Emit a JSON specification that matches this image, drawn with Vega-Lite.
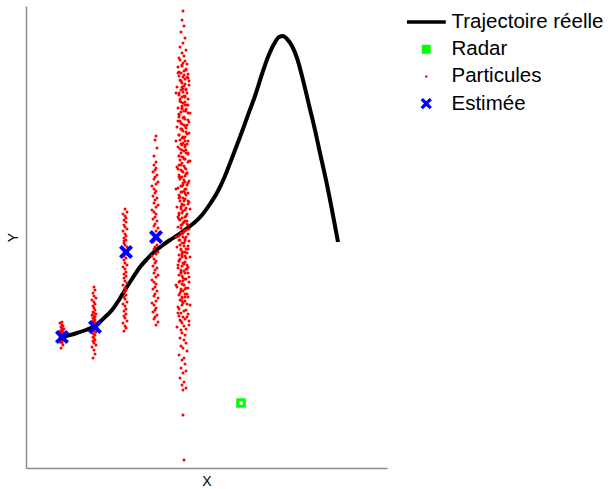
{
"$schema": "https://vega.github.io/schema/vega-lite/v6.json",
"width": 361, "height": 462,
"autosize": {"type": "none"},
"padding": {"left": 26, "top": 6, "right": 221, "bottom": 21},
"background": "white",
"config": {
 "view": {"stroke": null},
 "font": "Liberation Sans",
 "axis": {"ticks": false, "labels": false, "grid": false, "domainColor": "#8c8c8c", "domainWidth": 1.5, "titleFont": "Liberation Sans", "titleFontSize": 14, "titleFontWeight": "normal", "titleColor": "black", "titlePadding": 6}
},
"datasets": {
 "traj": [{"x":34,"y":131},{"x":44,"y":133},{"x":51,"y":135},{"x":60,"y":138},{"x":69,"y":142},{"x":77,"y":149},{"x":86,"y":158},{"x":93,"y":168},{"x":99,"y":178},{"x":106,"y":189},{"x":114,"y":201},{"x":122,"y":210},{"x":129,"y":217},{"x":137,"y":223},{"x":144,"y":228},{"x":152,"y":233},{"x":160,"y":239},{"x":168,"y":245},{"x":176,"y":253},{"x":184,"y":264},{"x":192,"y":277},{"x":199,"y":292},{"x":206,"y":310},{"x":214,"y":331},{"x":222,"y":353},{"x":229,"y":372},{"x":236,"y":394},{"x":242,"y":411},{"x":248,"y":424},{"x":253,"y":431},{"x":257,"y":432},{"x":261,"y":429},{"x":266,"y":422},{"x":271,"y":410},{"x":277,"y":388},{"x":283,"y":363},{"x":289,"y":338},{"x":294,"y":315},{"x":300,"y":288},{"x":306,"y":258},{"x":312,"y":226}],
 "radar": [{"x":215,"y":65}],
 "est": [{"x":36,"y":131},{"x":69,"y":141},{"x":100,"y":216},{"x":130,"y":231}],
 "part": [
 {"x":35,"y":120},{"x":37,"y":123},{"x":36,"y":125},{"x":34,"y":126},{"x":36,"y":127},{"x":38,"y":128},{"x":36,"y":128},{"x":35,"y":129},{"x":37,"y":130},{"x":36,"y":130},{"x":34,"y":131},{"x":36,"y":131},{"x":38,"y":132},{"x":36,"y":132},{"x":35,"y":133},{"x":37,"y":133},{"x":36,"y":133},{"x":34,"y":134},{"x":36,"y":134},{"x":38,"y":135},{"x":36,"y":135},{"x":35,"y":136},{"x":37,"y":136},{"x":36,"y":137},{"x":34,"y":137},{"x":36,"y":138},{"x":38,"y":139},{"x":36,"y":140},{"x":35,"y":141},{"x":37,"y":142},{"x":36,"y":143},{"x":34,"y":145},{"x":36,"y":146},{"x":37,"y":129},{"x":35,"y":131},
 {"x":67,"y":110},{"x":69,"y":114},{"x":68,"y":118},{"x":66,"y":121},{"x":70,"y":123},{"x":68,"y":125},{"x":67,"y":127},{"x":69,"y":128},{"x":68,"y":130},{"x":67,"y":131},{"x":69,"y":133},{"x":68,"y":134},{"x":66,"y":135},{"x":70,"y":136},{"x":68,"y":137},{"x":67,"y":138},{"x":69,"y":139},{"x":68,"y":140},{"x":67,"y":141},{"x":69,"y":142},{"x":68,"y":143},{"x":66,"y":144},{"x":70,"y":145},{"x":68,"y":146},{"x":67,"y":147},{"x":69,"y":148},{"x":68,"y":149},{"x":67,"y":150},{"x":69,"y":151},{"x":68,"y":152},{"x":66,"y":153},{"x":70,"y":154},{"x":68,"y":155},{"x":67,"y":156},{"x":69,"y":158},{"x":68,"y":160},{"x":67,"y":162},{"x":69,"y":164},{"x":68,"y":166},{"x":66,"y":168},{"x":70,"y":170},{"x":68,"y":172},{"x":67,"y":175},{"x":69,"y":178},{"x":68,"y":181},
 {"x":98,"y":137},{"x":100,"y":140},{"x":99,"y":142},{"x":97,"y":145},{"x":101,"y":147},{"x":99,"y":150},{"x":98,"y":152},{"x":100,"y":154},{"x":98,"y":157},{"x":100,"y":159},{"x":99,"y":162},{"x":97,"y":164},{"x":101,"y":166},{"x":99,"y":169},{"x":98,"y":171},{"x":100,"y":173},{"x":98,"y":176},{"x":100,"y":178},{"x":99,"y":180},{"x":97,"y":183},{"x":101,"y":185},{"x":99,"y":187},{"x":98,"y":190},{"x":100,"y":192},{"x":98,"y":194},{"x":100,"y":196},{"x":99,"y":199},{"x":97,"y":201},{"x":101,"y":203},{"x":99,"y":205},{"x":98,"y":208},{"x":100,"y":210},{"x":98,"y":212},{"x":100,"y":214},{"x":99,"y":216},{"x":97,"y":219},{"x":101,"y":221},{"x":99,"y":223},{"x":98,"y":225},{"x":100,"y":228},{"x":98,"y":230},{"x":100,"y":232},{"x":99,"y":234},{"x":97,"y":237},{"x":101,"y":239},{"x":99,"y":241},{"x":98,"y":243},{"x":100,"y":246},{"x":98,"y":248},{"x":100,"y":250},{"x":99,"y":252},{"x":97,"y":254},{"x":101,"y":256},{"x":99,"y":259},{"x":98,"y":227},
 {"x":130,"y":332},{"x":129,"y":328},{"x":131,"y":320},{"x":128,"y":312},{"x":130,"y":306},
 {"x":128,"y":303},{"x":130,"y":300},{"x":129,"y":298},{"x":127,"y":296},{"x":131,"y":293},{"x":129,"y":291},{"x":128,"y":289},{"x":132,"y":286},{"x":130,"y":284},{"x":126,"y":282},{"x":128,"y":279},{"x":130,"y":277},{"x":129,"y":275},{"x":127,"y":272},{"x":131,"y":270},{"x":129,"y":268},{"x":128,"y":265},{"x":132,"y":263},{"x":130,"y":261},{"x":126,"y":258},{"x":128,"y":256},{"x":130,"y":254},{"x":129,"y":251},{"x":127,"y":249},{"x":131,"y":247},{"x":129,"y":244},{"x":128,"y":242},{"x":132,"y":240},{"x":130,"y":237},{"x":126,"y":235},{"x":128,"y":233},{"x":130,"y":230},{"x":129,"y":228},{"x":127,"y":226},{"x":131,"y":223},{"x":129,"y":221},{"x":128,"y":219},{"x":132,"y":216},{"x":130,"y":214},{"x":126,"y":212},{"x":128,"y":209},{"x":130,"y":207},{"x":129,"y":205},{"x":127,"y":202},{"x":131,"y":200},{"x":129,"y":198},{"x":128,"y":195},{"x":132,"y":193},{"x":130,"y":191},{"x":126,"y":188},{"x":128,"y":186},{"x":130,"y":184},{"x":129,"y":181},{"x":127,"y":179},{"x":131,"y":177},{"x":129,"y":174},{"x":128,"y":172},{"x":132,"y":170},{"x":130,"y":167},{"x":126,"y":165},{"x":128,"y":163},{"x":130,"y":160},{"x":129,"y":158},{"x":127,"y":156},{"x":131,"y":153},{"x":129,"y":151},{"x":128,"y":149},{"x":132,"y":146},{"x":130,"y":143},
 {"x":157,"y":457},{"x":156,"y":448},{"x":158,"y":442},{"x":155,"y":436},{"x":159,"y":430},{"x":157,"y":425},{"x":154,"y":421},{"x":160,"y":418},{"x":156,"y":415},{"x":158,"y":412},{"x":153,"y":410},
 {"x":154,"y":408},{"x":159,"y":407},{"x":157,"y":405},{"x":161,"y":404},{"x":156,"y":403},{"x":152,"y":401},{"x":160,"y":398},{"x":158,"y":397},{"x":155,"y":395},{"x":162,"y":394},{"x":153,"y":392},{"x":157,"y":391},{"x":159,"y":389},{"x":154,"y":388},{"x":163,"y":387},{"x":156,"y":385},{"x":158,"y":382},{"x":151,"y":381},{"x":160,"y":379},{"x":155,"y":378},{"x":157,"y":376},{"x":161,"y":375},{"x":153,"y":373},{"x":159,"y":372},{"x":156,"y":371},
 {"x":154,"y":369},{"x":159,"y":366},{"x":157,"y":365},{"x":161,"y":363},{"x":156,"y":362},{"x":152,"y":360},{"x":160,"y":359},{"x":158,"y":357},{"x":155,"y":356},{"x":162,"y":355},{"x":153,"y":353},{"x":157,"y":350},{"x":159,"y":349},{"x":154,"y":347},{"x":163,"y":346},{"x":156,"y":344},{"x":158,"y":343},{"x":151,"y":341},{"x":160,"y":340},{"x":155,"y":339},{"x":157,"y":337},{"x":161,"y":334},{"x":153,"y":333},{"x":159,"y":331},{"x":156,"y":330},
 {"x":154,"y":328},{"x":159,"y":327},{"x":157,"y":325},{"x":161,"y":324},{"x":156,"y":323},{"x":152,"y":321},{"x":160,"y":318},{"x":158,"y":317},{"x":155,"y":315},{"x":162,"y":314},{"x":153,"y":312},{"x":157,"y":311},{"x":159,"y":309},{"x":154,"y":308},{"x":163,"y":307},{"x":156,"y":305},{"x":158,"y":302},{"x":151,"y":301},{"x":160,"y":299},{"x":155,"y":298},{"x":157,"y":296},{"x":161,"y":295},{"x":153,"y":293},{"x":159,"y":292},{"x":156,"y":291},
 {"x":154,"y":289},{"x":159,"y":286},{"x":157,"y":285},{"x":161,"y":283},{"x":156,"y":282},{"x":152,"y":280},{"x":160,"y":279},{"x":158,"y":277},{"x":155,"y":276},{"x":162,"y":275},{"x":153,"y":273},{"x":157,"y":270},{"x":159,"y":269},{"x":154,"y":267},{"x":163,"y":266},{"x":156,"y":264},{"x":158,"y":263},{"x":151,"y":261},{"x":160,"y":260},{"x":155,"y":259},{"x":157,"y":257},{"x":161,"y":254},{"x":153,"y":253},{"x":159,"y":251},{"x":156,"y":250},
 {"x":154,"y":248},{"x":159,"y":247},{"x":157,"y":245},{"x":161,"y":244},{"x":156,"y":243},{"x":152,"y":241},{"x":160,"y":238},{"x":158,"y":237},{"x":155,"y":235},{"x":162,"y":234},{"x":153,"y":232},{"x":157,"y":231},{"x":159,"y":229},{"x":154,"y":228},{"x":163,"y":227},{"x":156,"y":225},{"x":158,"y":222},{"x":151,"y":221},{"x":160,"y":219},{"x":155,"y":218},{"x":157,"y":216},{"x":161,"y":215},{"x":153,"y":213},{"x":159,"y":212},{"x":156,"y":211},
 {"x":154,"y":209},{"x":159,"y":206},{"x":157,"y":205},{"x":161,"y":203},{"x":156,"y":202},{"x":152,"y":200},{"x":160,"y":199},{"x":158,"y":197},{"x":155,"y":196},{"x":162,"y":195},{"x":153,"y":193},{"x":157,"y":190},{"x":159,"y":189},{"x":154,"y":187},{"x":163,"y":186},{"x":156,"y":184},{"x":158,"y":183},{"x":151,"y":181},{"x":160,"y":180},{"x":155,"y":179},{"x":157,"y":177},{"x":161,"y":174},{"x":153,"y":173},{"x":159,"y":171},{"x":156,"y":170},
 {"x":154,"y":168},{"x":159,"y":167},{"x":157,"y":165},{"x":161,"y":164},{"x":156,"y":163},{"x":152,"y":161},{"x":160,"y":158},{"x":158,"y":157},{"x":155,"y":155},{"x":162,"y":154},{"x":153,"y":152},{"x":157,"y":151},{"x":159,"y":149},{"x":154,"y":148},{"x":163,"y":147},{"x":156,"y":145},{"x":158,"y":142},{"x":151,"y":141},{"x":160,"y":139},{"x":155,"y":138},
 {"x":156,"y":135},{"x":159,"y":133},{"x":154,"y":130},{"x":158,"y":128},{"x":160,"y":125},{"x":155,"y":122},{"x":157,"y":120},{"x":161,"y":117},{"x":153,"y":113},{"x":158,"y":110},{"x":156,"y":108},{"x":159,"y":104},{"x":155,"y":100},{"x":160,"y":97},{"x":157,"y":95},{"x":154,"y":90},{"x":158,"y":86},{"x":156,"y":83},{"x":160,"y":80},{"x":157,"y":78},
 {"x":157,"y":53},{"x":158,"y":8},
 {"x":156,"y":402},{"x":160,"y":399},{"x":153,"y":396},{"x":158,"y":393},{"x":162,"y":390},{"x":155,"y":387},{"x":159,"y":384},{"x":156,"y":381},{"x":160,"y":378},{"x":153,"y":375},{"x":158,"y":372},{"x":162,"y":369},{"x":155,"y":366},{"x":159,"y":363},{"x":156,"y":360},{"x":160,"y":357},{"x":153,"y":354},{"x":158,"y":351},{"x":162,"y":348},{"x":155,"y":345},{"x":159,"y":342},{"x":156,"y":339},{"x":160,"y":336},{"x":153,"y":333},{"x":158,"y":330},{"x":162,"y":327},{"x":155,"y":324},{"x":159,"y":321},{"x":156,"y":318},{"x":160,"y":315},{"x":153,"y":312},{"x":158,"y":309},{"x":162,"y":306},{"x":155,"y":303},{"x":159,"y":300},{"x":156,"y":297},{"x":160,"y":294},{"x":153,"y":291},{"x":158,"y":288},{"x":162,"y":285},{"x":155,"y":282},{"x":159,"y":279},{"x":156,"y":276},{"x":160,"y":273},{"x":153,"y":270},{"x":158,"y":267},{"x":162,"y":264},{"x":155,"y":261},{"x":159,"y":258},{"x":156,"y":255},{"x":160,"y":252},{"x":153,"y":249},{"x":158,"y":246},{"x":162,"y":243},{"x":155,"y":240},{"x":159,"y":237},{"x":156,"y":234},{"x":160,"y":231},{"x":153,"y":228},{"x":158,"y":225},{"x":162,"y":222},{"x":155,"y":219},{"x":159,"y":216},{"x":156,"y":213},{"x":160,"y":210},{"x":153,"y":207},{"x":158,"y":204},{"x":162,"y":201},{"x":155,"y":198},{"x":159,"y":195},{"x":156,"y":192},{"x":160,"y":189},{"x":153,"y":186},{"x":158,"y":183},{"x":162,"y":180},{"x":155,"y":177},{"x":159,"y":174},{"x":156,"y":171},
 {"x":152,"y":395},{"x":161,"y":391},{"x":155,"y":387},{"x":163,"y":383},{"x":157,"y":379},{"x":150,"y":375},{"x":159,"y":371},{"x":154,"y":367},{"x":162,"y":363},{"x":156,"y":359},{"x":164,"y":355},{"x":153,"y":351},{"x":152,"y":347},{"x":161,"y":343},{"x":155,"y":339},{"x":163,"y":335},{"x":157,"y":331},{"x":150,"y":327},{"x":159,"y":323},{"x":154,"y":319},{"x":162,"y":315},{"x":156,"y":311},{"x":164,"y":307},{"x":153,"y":303},{"x":152,"y":299},{"x":161,"y":295},{"x":155,"y":291},{"x":163,"y":287},{"x":157,"y":283},{"x":150,"y":279},{"x":159,"y":275},{"x":154,"y":271},{"x":162,"y":267},{"x":156,"y":263},{"x":164,"y":259},{"x":153,"y":255},{"x":152,"y":251},{"x":161,"y":247},{"x":155,"y":243},{"x":163,"y":239},{"x":157,"y":235},{"x":150,"y":231},{"x":159,"y":227},{"x":154,"y":223},{"x":162,"y":219},{"x":156,"y":215},{"x":164,"y":211},{"x":153,"y":207},{"x":152,"y":203},{"x":161,"y":199},{"x":155,"y":195},{"x":163,"y":191},{"x":157,"y":187},{"x":150,"y":183},{"x":159,"y":179},{"x":154,"y":175},{"x":162,"y":171},{"x":156,"y":167},{"x":164,"y":163},{"x":153,"y":159},{"x":152,"y":155},{"x":161,"y":151},{"x":155,"y":147},{"x":163,"y":143}
 ]
},
"layer": [
 {"data": {"name": "traj"},
  "mark": {"type": "line", "strokeWidth": 4, "interpolate": "monotone"},
  "encoding": {
   "x": {"field": "x", "type": "quantitative", "scale": {"domain": [0, 361], "nice": false, "zero": false}, "axis": {"title": "X"}},
   "y": {"field": "y", "type": "quantitative", "scale": {"domain": [0, 462], "nice": false, "zero": false}, "axis": {"title": "Y"}},
   "color": {"datum": "Trajectoire réelle", "type": "nominal",
     "scale": {"domain": ["Trajectoire réelle", "Radar", "Particules", "Estimée"], "range": ["#000000", "#00ff00", "#ff0000", "#0000ff"]},
     "legend": {"title": null, "orient": "none", "legendX": 381, "legendY": 7, "padding": 0,
       "symbolSize": 1521, "clipHeight": 18, "rowPadding": 6.2, "symbolOffset": 9,
       "labelFontSize": 20.5, "labelFont": "Liberation Sans", "labelColor": "black", "labelOffset": 15, "labelLimit": 400,
       "symbolFillColor": "#ffffff",
       "encode": {"symbols": {"update": {
         "shape": {"signal": "datum.value === 'Trajectoire réelle' ? 'stroke' : datum.value === 'Radar' ? 'square' : datum.value === 'Particules' ? 'circle' : 'M-1,-0.6L-0.6,-1L0,-0.4L0.6,-1L1,-0.6L0.4,0L1,0.6L0.6,1L0,0.4L-0.6,1L-1,0.6L-0.4,0Z'"},
         "size": {"signal": "datum.value === 'Trajectoire réelle' ? 1521 : datum.value === 'Radar' ? 46 : datum.value === 'Particules' ? 6 : 130"},
         "fill": {"signal": "datum.value === 'Particules' ? '#ff0000' : datum.value === 'Estimée' ? '#0000ff' : '#ffffff'"},
         "fillOpacity": {"value": 1},
         "stroke": {"signal": "datum.value === 'Trajectoire réelle' ? '#000000' : datum.value === 'Radar' ? '#00ff00' : 'transparent'"},
         "strokeWidth": {"signal": "datum.value === 'Trajectoire réelle' ? 3.5 : datum.value === 'Radar' ? 2.2 : 0"},
         "opacity": {"value": 1}
       }}}}}
  }},
 {"data": {"name": "radar"},
  "mark": {"type": "point", "shape": "square", "size": 42, "filled": false, "strokeWidth": 3, "opacity": 1},
  "encoding": {
   "x": {"field": "x", "type": "quantitative"},
   "y": {"field": "y", "type": "quantitative"},
   "color": {"datum": "Radar", "type": "nominal"}
  }},
 {"data": {"name": "part"},
  "mark": {"type": "point", "shape": "circle", "size": 9, "filled": true, "opacity": 1},
  "encoding": {
   "x": {"field": "x", "type": "quantitative"},
   "y": {"field": "y", "type": "quantitative"},
   "color": {"datum": "Particules", "type": "nominal"}
  }},
 {"data": {"name": "est"},
  "mark": {"type": "point", "shape": "M-1,-0.6L-0.6,-1L0,-0.4L0.6,-1L1,-0.6L0.4,0L1,0.6L0.6,1L0,0.4L-0.6,1L-1,0.6L-0.4,0Z", "size": 196, "filled": true, "opacity": 1},
  "encoding": {
   "x": {"field": "x", "type": "quantitative"},
   "y": {"field": "y", "type": "quantitative"},
   "color": {"datum": "Estimée", "type": "nominal"}
  }}
]
}
